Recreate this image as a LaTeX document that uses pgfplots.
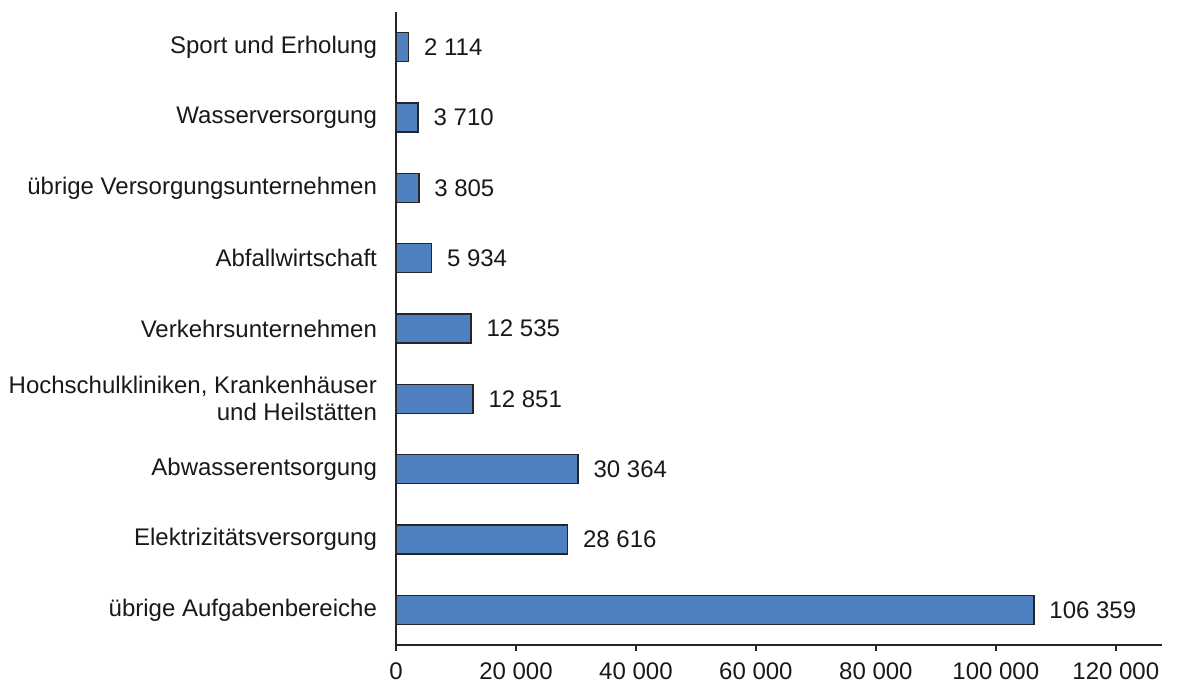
\documentclass[border=0pt]{standalone}
\usepackage{fontspec}
\setmainfont{Liberation Sans}
\usepackage{pgfplots}
\pgfplotsset{compat=1.18}
\definecolor{barblue}{HTML}{4F81C2}
\begin{document}
\begin{tikzpicture}
\begin{axis}[
  scale only axis,
  width=383pt, height=316.5pt,
  xbar,
  bar width=14.5pt,
  xmin=0, xmax=127700,
  ymin=-0.5, ymax=8.5,
  axis x line*=bottom,
  axis y line*=left,
  axis line style={line width=1pt, black!85},
  xtick={0,20000,40000,60000,80000,100000,120000},
  xticklabels={0,20 000,40 000,60 000,80 000,100 000,120 000},
  xtick style={line width=1pt, black!85},
  tick align=outside,
  major tick length=3pt,
  ytick={0,1,2,3,4,5,6,7,8},
  ytick style={draw=none},
  yticklabels={
    übrige Aufgabenbereiche,
    Elektrizitätsversorgung,
    Abwasserentsorgung,
    {Hochschulkliniken, Krankenhäuser\\und Heilstätten},
    Verkehrsunternehmen,
    Abfallwirtschaft,
    übrige Versorgungsunternehmen,
    Wasserversorgung,
    Sport und Erholung},
  yticklabel style={align=right, xshift=-3pt, font=\fontsize{12}{13.5}\selectfont, text=black!90},
  xticklabel style={font=\fontsize{12}{13.5}\selectfont, text=black!90, inner sep=0pt, yshift=-5.5pt},
  point meta=explicit symbolic,
  nodes near coords,
  nodes near coords style={font=\fontsize{12}{13.5}\selectfont, text=black!90, anchor=west, xshift=4pt},
]
\addplot[fill=barblue, draw=black!85, line width=0.8pt] coordinates {
  (106359,0) [106 359]
  (28616,1) [28 616]
  (30364,2) [30 364]
  (12851,3) [12 851]
  (12535,4) [12 535]
  (5934,5) [5 934]
  (3805,6) [3 805]
  (3710,7) [3 710]
  (2114,8) [2 114]
};
\end{axis}
\pgfresetboundingbox
\path[use as bounding box] (-198pt,-21pt) rectangle (391pt,322.5pt);
\end{tikzpicture}
\end{document}
